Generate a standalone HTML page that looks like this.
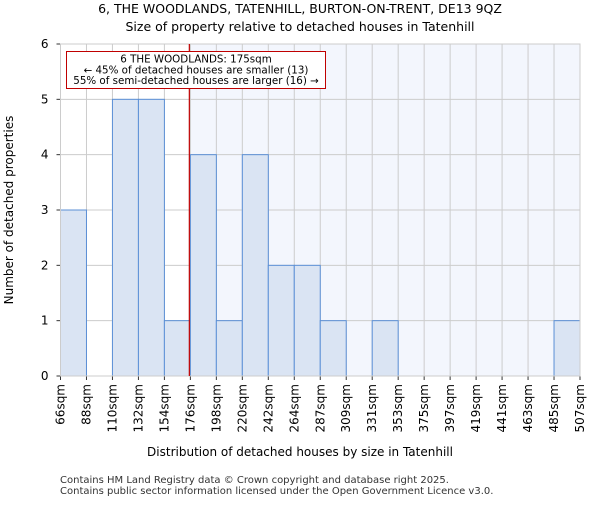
<!DOCTYPE html>
<html><head><meta charset="utf-8"><style>
body{margin:0;background:#fff;font-family:"Liberation Sans","DejaVu Sans",sans-serif;}
</style></head><body>
<svg width="600" height="500" xmlns="http://www.w3.org/2000/svg" font-family="DejaVu Sans, Liberation Sans, sans-serif">
<text x="300" y="13" text-anchor="middle" font-size="12.5">6, THE WOODLANDS, TATENHILL, BURTON-ON-TRENT, DE13 9QZ</text>
<text x="300" y="31" text-anchor="middle" font-size="12.5">Size of property relative to detached houses in Tatenhill</text>
<g id="plot"></g>
<text x="300" y="456" text-anchor="middle" font-size="12">Distribution of detached houses by size in Tatenhill</text>
<text transform="translate(13,210) rotate(-90)" text-anchor="middle" font-size="12">Number of detached properties</text>
<text x="60" y="483" font-size="10" fill="#333">Contains HM Land Registry data © Crown copyright and database right 2025.</text>
<text x="60" y="494" font-size="10" fill="#333">Contains public sector information licensed under the Open Government Licence v3.0.</text>
</svg>
<script>
const edges=["66sqm","88sqm","110sqm","132sqm","154sqm","176sqm","198sqm","220sqm","242sqm","264sqm","287sqm","309sqm","331sqm","353sqm","375sqm","397sqm","419sqm","441sqm","463sqm","485sqm","507sqm"];
const counts=[3,0,5,5,1,4,1,4,2,2,1,0,1,0,0,0,0,0,0,1];
const yTicks=[0,1,2,3,4,5,6];
const propertyBin=4.96;
const NS="http://www.w3.org/2000/svg";
const g=document.getElementById('plot');
const X0=60.5,X1=580,Y0=376,Y1=44,YMAX=6;
const bw=(X1-X0)/counts.length;
const x=i=>X0+i*bw;
const y=v=>Y0-(Y0-Y1)*v/YMAX;
function mk(t,a){const e=document.createElementNS(NS,t);for(const k in a)e.setAttribute(k,a[k]);g.appendChild(e);return e;}
const hl=mk('rect',{x:x(propertyBin),y:Y1,width:X1-x(propertyBin),height:Y0-Y1,fill:'#f3f6fd'});


for(let i=0;i<edges.length;i++){const l=mk('line',{x1:x(i),x2:x(i),y1:Y1,y2:Y0,stroke:'#cccccc','stroke-width':1});

}
yTicks.forEach(t=>{const l=mk('line',{x1:X0,x2:X1,y1:y(t),y2:y(t),stroke:'#cccccc','stroke-width':1});


const tk=mk('line',{x1:X0-4,x2:X0,y1:y(t),y2:y(t),stroke:'#333'});


const tx=mk('text',{x:X0-12,y:y(t)+4,'text-anchor':'end','font-size':12});tx.textContent=t;

});
counts.forEach((c,i)=>{if(!c)return;const r=mk('rect',{x:x(i),y:y(c),width:bw,height:Y0-y(c),fill:'#dae4f3',stroke:'#5b8fd6','stroke-width':1});

});
edges.forEach((s,i)=>{const tk=mk('line',{x1:x(i),x2:x(i),y1:Y0,y2:Y0+4,stroke:'#333'});


const t=mk('text',{transform:`translate(${x(i)+4},${Y0+8}) rotate(-90)`,'text-anchor':'end','font-size':12});t.textContent=s;

});
const ax=mk('rect',{x:X0,y:Y1,width:X1-X0,height:Y0-Y1,fill:'none',stroke:'#cccccc'});


const ml=mk('line',{x1:x(propertyBin),x2:x(propertyBin),y1:Y1,y2:Y0,stroke:'#c00000','stroke-width':1.2});


const box=mk('rect',{x:66.5,y:51.5,width:259,height:37,fill:'#fff',stroke:'#c00000','stroke-width':1});


["6 THE WOODLANDS: 175sqm","← 45% of detached houses are smaller (13)","55% of semi-detached houses are larger (16) →"].forEach((s,k)=>{
const t=mk('text',{x:196,y:62.5+k*10.8,'text-anchor':'middle','font-size':10.3});t.textContent=s;

});
</script>
</body></html>
